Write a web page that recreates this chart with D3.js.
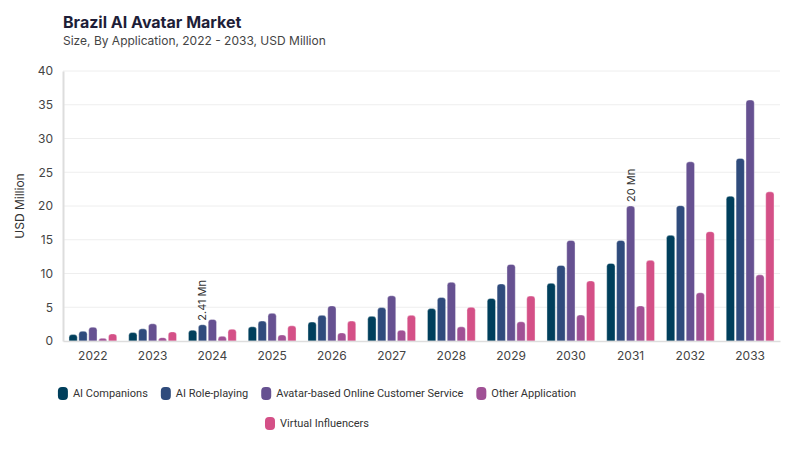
<!DOCTYPE html>
<html>
<head>
<meta charset="utf-8">
<script src="https://cdn.jsdelivr.net/npm/d3@7"></script>
<style>
  body { margin: 0; background: #fff; }
  text { font-family: Inter, "Noto Sans", sans-serif; }
</style>
</head>
<body>
<div class="canvas"></div>
<script>
const years = ["2022", "2023", "2024", "2025", "2026", "2027", "2028", "2029", "2030", "2031", "2032", "2033"];
const seriesNames = ["AI Companions", "AI Role-playing", "Avatar-based Online Customer Service", "Other Application", "Virtual Influencers"];
const aiCompanions = [0.95, 1.25, 1.6, 2.1, 2.8, 3.65, 4.8, 6.3, 8.55, 11.5, 15.65, 21.45];
const aiRolePlaying = [1.45, 1.8, 2.41, 2.95, 3.8, 4.95, 6.45, 8.45, 11.2, 14.9, 20.05, 27.05];
const customerService = [2.05, 2.55, 3.2, 4.1, 5.2, 6.7, 8.7, 11.35, 14.9, 20, 26.55, 35.7];
const otherApplication = [0.4, 0.5, 0.7, 0.9, 1.2, 1.6, 2.1, 2.85, 3.85, 5.2, 7.15, 9.8];
const virtualInfluencers = [1.05, 1.35, 1.75, 2.25, 2.95, 3.8, 5.0, 6.65, 8.9, 11.95, 16.2, 22.1];
const yTicks = [0, 5, 10, 15, 20, 25, 30, 35, 40];
const colors = ["#003f5c", "#2f4b7c", "#665191", "#a05195", "#d45087"];
// callouts: [year, series index, label]
const callouts = [["2024", 1, "2.41 Mn"], ["2031", 2, "20 Mn"]];

const allSeries = [aiCompanions, aiRolePlaying, customerService, otherApplication, virtualInfluencers];

const dims = { width: 800, height: 450 };
const plot = { left: 63, right: 780, top: 71, bottom: 341 };

const svg = d3
  .select(".canvas")
  .append("svg")
  .attr("width", dims.width)
  .attr("height", dims.height);

// titles
svg.append("text")
  .attr("x", 63).attr("y", 28)
  .attr("font-size", 16).attr("font-weight", 700)
  .attr("fill", "#1e1e38")
  .text("Brazil AI Avatar Market");
svg.append("text")
  .attr("x", 63).attr("y", 45)
  .attr("font-size", 12)
  .attr("fill", "#444")
  .text("Size, By Application, 2022 - 2033, USD Million");

const x = d3.scaleBand().domain(years).range([plot.left, plot.right]).paddingInner(0.2).paddingOuter(0.1);
const xSub = d3.scaleBand().domain(d3.range(seriesNames.length)).range([0, x.bandwidth()]).paddingInner(0.16);
const y = d3.scaleLinear().domain([0, 40]).range([plot.bottom, plot.top]);

// grid
svg.append("g")
  .selectAll("line")
  .data(yTicks.slice(1))
  .join("line")
  .attr("x1", plot.left).attr("x2", plot.right)
  .attr("y1", (d) => y(d)).attr("y2", (d) => y(d))
  .attr("stroke", "#eeeeee").attr("stroke-width", 1);

// y axis
const yAxis = svg.append("g")
  .attr("transform", `translate(${plot.left},0)`)
  .call(d3.axisLeft(y).tickValues(yTicks).tickSize(0).tickPadding(10));
yAxis.select(".domain").attr("stroke", "#dddddd").attr("stroke-width", 2);
yAxis.selectAll("text").attr("font-size", 12).attr("fill", "#444").style("font-family", "Inter, sans-serif");

svg.append("text")
  .attr("transform", `translate(24,${(plot.top + plot.bottom) / 2}) rotate(-90)`)
  .attr("text-anchor", "middle")
  .attr("font-size", 12).attr("fill", "#333")
  .text("USD Million");

// bars
const barPath = (x0, w, v) => {
  const top = y(v), base = y(0);
  const r = Math.min(3, w / 2, base - top);
  return `M${x0},${base}V${top + r}Q${x0},${top} ${x0 + r},${top}H${x0 + w - r}Q${x0 + w},${top} ${x0 + w},${top + r}V${base}Z`;
};

const groups = svg.append("g")
  .selectAll("g")
  .data(years)
  .join("g")
  .attr("transform", (d) => `translate(${x(d)},0)`);

groups.selectAll("path")
  .data((d, i) => allSeries.map((s, k) => ({ k, v: s[i] })))
  .join("path")
  .attr("d", (d) => barPath(xSub(d.k), xSub.bandwidth(), d.v))
  .attr("fill", (d) => colors[d.k])
  .attr("stroke", "#ffffff")
  .attr("stroke-opacity", 0.6)
  .attr("stroke-width", 0.6);

// x axis
const xAxis = svg.append("g")
  .attr("transform", `translate(0,${plot.bottom})`)
  .call(d3.axisBottom(x).tickSize(0).tickPadding(10));
xAxis.select(".domain").attr("stroke", "#dddddd").attr("stroke-width", 1.5);
xAxis.selectAll("text").attr("font-size", 12).attr("fill", "#444").style("font-family", "Inter, sans-serif");

// callouts
callouts.forEach(([yr, k, label]) => {
  const i = years.indexOf(yr);
  const cx = x(yr) + xSub(k) + xSub.bandwidth() / 2;
  svg.append("text")
    .attr("transform", `translate(${cx + 4},${y(allSeries[k][i]) - 4}) rotate(-90)`)
    .attr("font-size", 11).attr("fill", "#333")
    .text(label);
});

// legend
const legendGroup = svg.append("g");
const items = seriesNames.map((name, k) => {
  const g = legendGroup.append("g");
  g.append("rect").attr("width", 10).attr("height", 13).attr("rx", 4).attr("y", -10).attr("fill", colors[k]);
  const t = g.append("text").attr("x", 15).attr("font-size", 11)
    .style("font-family", "Roboto, sans-serif").attr("fill", "#333").text(name);
  return { g, w: 15 + t.node().getComputedTextLength() };
});

const rows = [[]];
let rowW = 0;
items.forEach((it) => {
  const add = (rows[rows.length - 1].length ? 13 : 0) + it.w;
  if (rowW + add > 560 && rows[rows.length - 1].length) {
    rows.push([it]);
    rowW = it.w;
  } else {
    rows[rows.length - 1].push(it);
    rowW += add;
  }
});
rows.forEach((row, r) => {
  const total = d3.sum(row, (d) => d.w) + 13 * (row.length - 1);
  let cx = 317 - total / 2;
  row.forEach((it) => {
    it.g.attr("transform", `translate(${cx},${397 + r * 30})`);
    cx += it.w + 13;
  });
});
</script>
</body>
</html>
